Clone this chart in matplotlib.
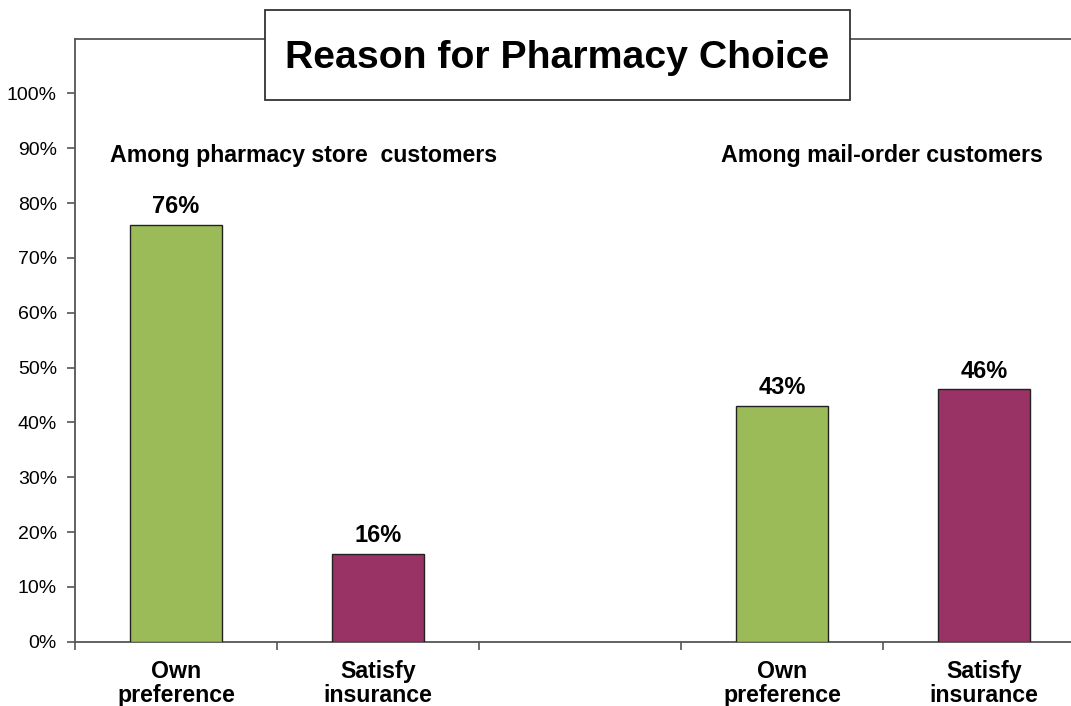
import matplotlib
matplotlib.use("Agg")
import matplotlib.pyplot as plt
from matplotlib.patches import Rectangle
from matplotlib.ticker import PercentFormatter

plt.rcParams['font.family'] = ['Liberation Sans', 'DejaVu Sans']

# Data
categories = ["Own\npreference", "Satisfy\ninsurance", "", "Own\npreference", "Satisfy\ninsurance"]
values = [76, 16, None, 43, 46]
bar_colors = ["#9BBB59", "#993366", None, "#9BBB59", "#993366"]
group_labels = ["Among pharmacy store  customers", "Among mail-order customers"]
title = "Reason for Pharmacy Choice"
yticks = [0, 10, 20, 30, 40, 50, 60, 70, 80, 90, 100]

fig = plt.figure(figsize=(10.71, 7.06), dpi=100)
ax = fig.add_axes([75 / 1071, 64.3 / 706, 1010 / 1071, 603.2 / 706])

xs = list(range(len(categories)))
for x, v, c in zip(xs, values, bar_colors):
    if v is None:
        continue
    ax.bar(x, v, width=0.46, color=c, edgecolor="#222222", linewidth=1.0, zorder=3)
    ax.text(x, v + 1.2, f"{v}%", ha="center", va="bottom",
            fontsize=17, fontweight="bold", color="black")

ax.set_xlim(-0.5, len(categories) - 0.5)
ax.set_ylim(0, 110)
ax.set_yticks(yticks)
ax.yaxis.set_major_formatter(PercentFormatter(decimals=0))

ax.set_xticks(xs)
ax.set_xticklabels(categories, fontsize=16.7, fontweight="bold", linespacing=1.08)
ax.set_xticks([i - 0.5 for i in range(len(categories) + 1)], minor=True)
ax.tick_params(axis="x", which="major", length=0, pad=13)
ax.tick_params(axis="x", which="minor", length=6, width=1.2, color="#555555", direction="out")
ax.tick_params(axis="y", length=6, width=1.2, color="#555555", direction="out",
               labelsize=14, pad=7)

for side in ["left", "bottom", "top", "right"]:
    ax.spines[side].set_color("#555555")
    ax.spines[side].set_linewidth(1.3)

# Group captions
ax.text(-0.327, 88.7, group_labels[0], ha="left", va="center",
        fontsize=16.7, fontweight="bold")
ax.text(2.70, 88.7, group_labels[1], ha="left", va="center",
        fontsize=16.7, fontweight="bold")

# Boxed title over the top frame line
box = Rectangle((265 / 1071, 1 - 100 / 706), 585 / 1071, 90 / 706,
                transform=fig.transFigure, facecolor="white",
                edgecolor="#333333", linewidth=1.3, zorder=5)
fig.add_artist(box)
fig.text(557.5 / 1071, 1 - 67.5 / 706, title, ha="center", va="baseline",
         fontsize=28.3, fontweight="bold", color="black", zorder=6)

fig.savefig("out.png", dpi=100)
